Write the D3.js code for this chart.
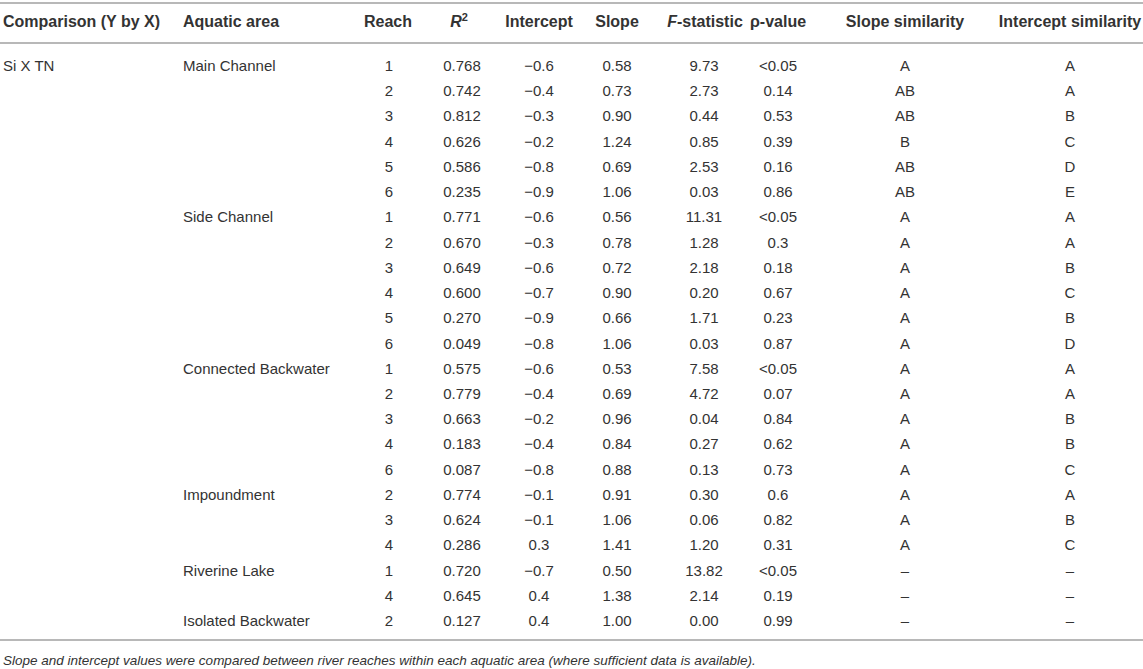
<!DOCTYPE html>
<html>
<head>
<meta charset="utf-8">
<script src="https://cdn.jsdelivr.net/npm/d3@7"></script>
<style>
    body { margin: 0; background: #fff; }
    svg text { font-family: "Liberation Sans", Arial, Helvetica, sans-serif; fill: #333; }
</style>
</head>
<body>
<div id="table"></div>
<script>
// Table values, one entry per row
const comparisons = ["Si X TN"];
const areaNames = ["Main Channel", "Side Channel", "Connected Backwater", "Impoundment", "Riverine Lake", "Isolated Backwater"];
const areaCounts = [6, 6, 5, 3, 2, 1];

const reaches = [1, 2, 3, 4, 5, 6,  1, 2, 3, 4, 5, 6,  1, 2, 3, 4, 6,  2, 3, 4,  1, 4,  2];
const r2Values = [0.768, 0.742, 0.812, 0.626, 0.586, 0.235,
                  0.771, 0.670, 0.649, 0.600, 0.270, 0.049,
                  0.575, 0.779, 0.663, 0.183, 0.087,
                  0.774, 0.624, 0.286,
                  0.720, 0.645,
                  0.127];
const intercepts = [-0.6, -0.4, -0.3, -0.2, -0.8, -0.9,
                    -0.6, -0.3, -0.6, -0.7, -0.9, -0.8,
                    -0.6, -0.4, -0.2, -0.4, -0.8,
                    -0.1, -0.1, 0.3,
                    -0.7, 0.4,
                    0.4];
const slopes = [0.58, 0.73, 0.90, 1.24, 0.69, 1.06,
                0.56, 0.78, 0.72, 0.90, 0.66, 1.06,
                0.53, 0.69, 0.96, 0.84, 0.88,
                0.91, 1.06, 1.41,
                0.50, 1.38,
                1.00];
const fStats = [9.73, 2.73, 0.44, 0.85, 2.53, 0.03,
                11.31, 1.28, 2.18, 0.20, 1.71, 0.03,
                7.58, 4.72, 0.04, 0.27, 0.13,
                0.30, 0.06, 1.20,
                13.82, 2.14,
                0.00];
const pValues = ["<0.05", "0.14", "0.53", "0.39", "0.16", "0.86",
                 "<0.05", "0.3", "0.18", "0.67", "0.23", "0.87",
                 "<0.05", "0.07", "0.84", "0.62", "0.73",
                 "0.6", "0.82", "0.31",
                 "<0.05", "0.19",
                 "0.99"];
const slopeSim = ["A", "AB", "AB", "B", "AB", "AB",
                  "A", "A", "A", "A", "A", "A",
                  "A", "A", "A", "A", "A",
                  "A", "A", "A",
                  "\u2013", "\u2013",
                  "\u2013"];
const interceptSim = ["A", "A", "B", "C", "D", "E",
                      "A", "A", "B", "C", "B", "D",
                      "A", "A", "B", "B", "C",
                      "A", "B", "C",
                      "\u2013", "\u2013",
                      "\u2013"];
const footnote = "Slope and intercept values were compared between river reaches within each aquatic area (where sufficient data is available).";

// Build rows from the arrays above
const rows = reaches.map((reach, i) => ({
    reach, r2: r2Values[i], intercept: intercepts[i], slope: slopes[i],
    f: fStats[i], p: pValues[i], ss: slopeSim[i], is: interceptSim[i],
    comparison: "", area: ""
}));
rows[0].comparison = comparisons[0];
let start = 0;
areaNames.forEach((name, k) => {
    rows[start].area = name;
    start += areaCounts[k];
});

const f1 = d3.format(".1f"), f2 = d3.format(".2f"), f3 = d3.format(".3f");

// Column layout: key, anchor x, alignment
const columns = [
    { key: "comparison", x: 3,    anchor: "start",  fmt: d => d },
    { key: "area",       x: 183,  anchor: "start",  fmt: d => d },
    { key: "reach",      x: 389,  anchor: "middle", fmt: d => d },
    { key: "r2",         x: 462,  anchor: "middle", fmt: f3 },
    { key: "intercept",  x: 539,  anchor: "middle", fmt: f1 },
    { key: "slope",      x: 617,  anchor: "middle", fmt: f2 },
    { key: "f",          x: 704,  anchor: "middle", fmt: f2 },
    { key: "p",          x: 778,  anchor: "middle", fmt: d => d },
    { key: "ss",         x: 905,  anchor: "middle", fmt: d => d },
    { key: "is",         x: 1070, anchor: "middle", fmt: d => d }
];

const width = 1143, height = 669;
const svg = d3.select("#table").append("svg")
    .attr("width", width)
    .attr("height", height);

// Row scale: first row centre at 66, last at 621
const y = d3.scaleLinear()
    .domain([0, rows.length - 1])
    .range([66, 621]);

const ruleColor = "#b8b8b8";
[3, 43, 640].forEach(ly => {
    svg.append("line")
        .attr("x1", 0).attr("x2", width)
        .attr("y1", ly).attr("y2", ly)
        .style("stroke", ruleColor)
        .style("stroke-width", 2);
});

// Header
const headerY = 27;
const header = svg.append("g").style("font-weight", "bold").style("font-size", "16px");
function headerCell(x, anchor) {
    return header.append("text").attr("x", x).attr("y", headerY).attr("text-anchor", anchor);
}
headerCell(3, "start").text("Comparison (Y by X)");
headerCell(183, "start").text("Aquatic area");
headerCell(388, "middle").text("Reach");
const r2Head = headerCell(459, "middle");
r2Head.append("tspan").style("font-style", "italic").text("R");
r2Head.append("tspan").attr("dy", -6).style("font-size", "11px").text("2");
headerCell(539, "middle").text("Intercept");
headerCell(617, "middle").text("Slope");
const fHead = headerCell(705, "middle");
fHead.append("tspan").style("font-style", "italic").text("F");
fHead.append("tspan").text("-statistic");
headerCell(778, "middle").text("\u03c1-value");
headerCell(905, "middle").text("Slope similarity");
headerCell(1070, "middle").text("Intercept similarity");

// Body cells
const body = svg.append("g").style("font-size", "15px");
rows.forEach((row, i) => {
    columns.forEach(col => {
        const v = row[col.key];
        if (v === "") return;
        body.append("text")
            .attr("x", col.x)
            .attr("y", y(i) + 5)
            .attr("text-anchor", col.anchor)
            .text(col.fmt(v));
    });
});

// Footnote
svg.append("text")
    .attr("x", 3)
    .attr("y", 665)
    .style("font-size", "13.5px")
    .style("font-style", "italic")
    .text(footnote);
</script>
</body>
</html>
